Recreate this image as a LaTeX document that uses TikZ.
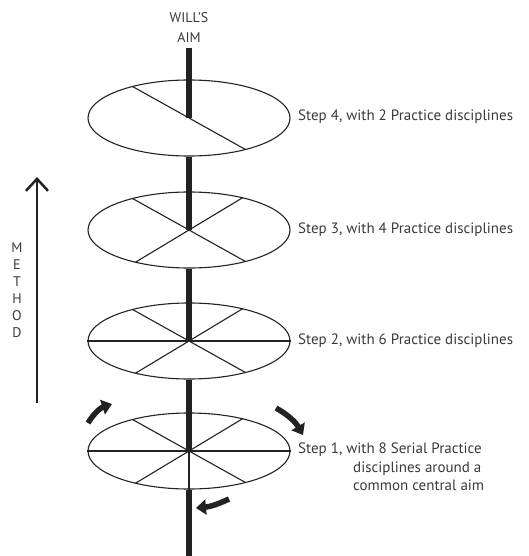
\documentclass[tikz,border=0pt]{standalone}
\usepackage{fontspec}
\setmainfont{PT Sans}
\usetikzlibrary{arrows.meta,calc,shapes.geometric}
\definecolor{ink}{HTML}{222222}
\definecolor{txt}{HTML}{3A3A3A}
\begin{document}
\begin{tikzpicture}[x=1pt,y=-1pt,
  disc/.style={draw=ink,line width=1.1pt,ellipse,minimum width=202pt,minimum height=76pt,inner sep=0pt},
  spoke/.style={draw=ink,line width=1.1pt},
  axis/.style={draw=ink,line width=6pt},
  label/.style={text=txt,font=\fontsize{15}{18.5}\selectfont,anchor=west,inner sep=0pt},
  rotarrow/.style={draw=ink,line width=5.5pt,-{Triangle[width=15pt,length=10pt]}},
  methodarrow/.style={draw=ink,line width=2.5pt,-{Straight Barb[length=12pt,width=22pt]}}]
\useasboundingbox (0,0) rectangle (528,556);
% discs
\node[disc] (e4) at (189,118) {};
\node[disc] (e3) at (189,230) {};
\node[disc] (e2) at (189,341) {};
\node[disc] (e1) at (189,451) {};
% axis
\coordinate (top) at (189,48);
\coordinate (bot) at (189,556);
\draw[axis] (top) -- (e4.center);
\draw[axis] (e4.south) -- (e3.center);
\draw[axis] (e3.south) -- (e2.center);
\draw[axis] (e2.south) -- (e1.center);
\draw[axis] (e1.south) -- (bot);
% spokes
\draw[spoke] ($(e4.center)+(124:101pt and 38pt)$) -- ($(e4.center)+(304:101pt and 38pt)$);
\foreach \n in {e3,e2,e1}{
  \draw[spoke] ($(\n.center)+(124:101pt and 38pt)$) -- ($(\n.center)+(304:101pt and 38pt)$);
  \draw[spoke] ($(\n.center)+(58:101pt and 38pt)$) -- ($(\n.center)+(238:101pt and 38pt)$);
}
\draw[spoke] (e2.west) -- (e2.east);
\draw[spoke] (e1.west) -- (e1.east);
\draw[spoke] (e1.center) -- (e1.south);
% labels
\node[text=txt,font=\fontsize{14}{20}\selectfont,align=center,inner sep=0pt] (aim) at (189,28) {WILL'S\\AIM};
\node[label] (l4) at (298,117) {Step 4, with 2 Practice disciplines};
\node[label] (l3) at (298,230) {Step 3, with 4 Practice disciplines};
\node[label] (l2) at (298,341) {Step 2, with 6 Practice disciplines};
\node[label,anchor=north west,align=left] (l1) at (298,443) {Step 1, with 8 Serial Practice\\\hspace*{55pt}disciplines around a\\\hspace*{55pt}common central aim};
% method
\coordinate (mb) at (37,403);
\coordinate (mt) at (37,177);
\draw[methodarrow] (mb) -- (mt);
\foreach \l [count=\i] in {M,E,T,H,O,D}{
  \node[text=txt,font=\fontsize{14}{16}\selectfont,inner sep=0pt] (m\i) at (17,231+17*\i) {\l};
}
% rotation arrows
\coordinate (a1s) at (88,423);
\coordinate (a1e) at (112,404);
\draw[rotarrow] (a1s) to[bend left=20] (a1e);
\coordinate (a2s) at (276,408);
\coordinate (a2e) at (303,435);
\draw[rotarrow] (a2s) to[bend left=15] (a2e);
\coordinate (a3s) at (229,499);
\coordinate (a3e) at (196,508);
\draw[rotarrow] (a3s) to[bend left=10] (a3e);
\end{tikzpicture}
\end{document}
